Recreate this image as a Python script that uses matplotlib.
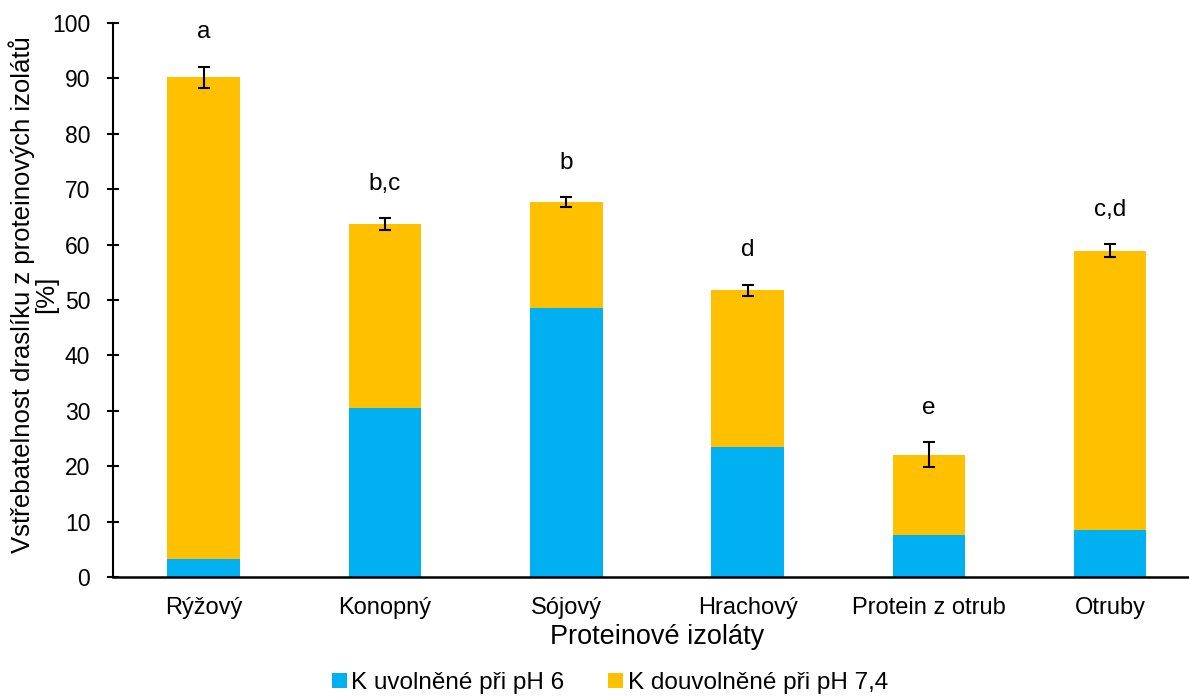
import matplotlib
matplotlib.use("Agg")
import matplotlib.pyplot as plt
import numpy as np

plt.rcParams['font.family'] = ['Liberation Sans', 'DejaVu Sans']

isolates = ["Rýžový", "Konopný", "Sójový", "Hrachový", "Protein z otrub", "Otruby"]
k_ph6 = [3.3, 30.5, 48.6, 23.5, 7.6, 8.5]
k_total = [90.2, 63.7, 67.7, 51.8, 22.1, 58.9]
k_err = [1.9, 1.1, 0.9, 1.0, 2.3, 1.2]
letters = ["a", "b,c", "b", "d", "e", "c,d"]

k_ph74 = [t - b for t, b in zip(k_total, k_ph6)]

blue = "#00B0F0"
orange = "#FFC000"

fig = plt.figure(figsize=(11.89, 6.97), dpi=100)
ax = fig.add_axes([0.095, 0.172, 0.915, 0.795])

x = np.arange(len(isolates))
ax.bar(x, k_ph6, width=0.4, color=blue, label="K uvolněné při pH 6")
ax.bar(x, k_ph74, width=0.4, bottom=k_ph6, color=orange, label="K douvolněné při pH 7,4")
ax.errorbar(x, k_total, yerr=k_err, fmt="none", ecolor="black", elinewidth=1.5,
            capsize=4.5, capthick=1.5)

for xi, t, e, lab in zip(x, k_total, k_err, letters):
    ax.text(xi, t + e + 6.2, lab, ha="center", va="center", fontsize=17.5)

ax.set_xlim(-0.5, len(isolates) - 0.5)
ax.set_ylim(0, 100)
ax.set_yticks(range(0, 101, 10))
ax.set_xticks(x)
ax.set_xticklabels(isolates)

for s in ["top", "right"]:
    ax.spines[s].set_visible(False)
ax.spines["left"].set_linewidth(1.5)
ax.spines["bottom"].set_linewidth(1.8)
ax.tick_params(axis="y", direction="inout", length=8.6, width=1.5, labelsize=16.5, pad=12)
ax.tick_params(axis="x", length=0, labelsize=17, pad=14)

ax.set_xlabel("Proteinové izoláty", fontsize=19.5, labelpad=4)
ax.set_ylabel("Vstřebatelnost draslíku z proteinových izolátů\n[%]", fontsize=18.5,
              linespacing=1.0)
ax.yaxis.set_label_coords(-0.05, 0.51)

fig.legend(loc="center", bbox_to_anchor=(0.513, 0.02), ncol=2, frameon=False,
           fontsize=17.5, handlelength=0.6, handleheight=0.6, handletextpad=0.2,
           columnspacing=1.8, borderpad=0)

fig.savefig("out.png", dpi=100)
